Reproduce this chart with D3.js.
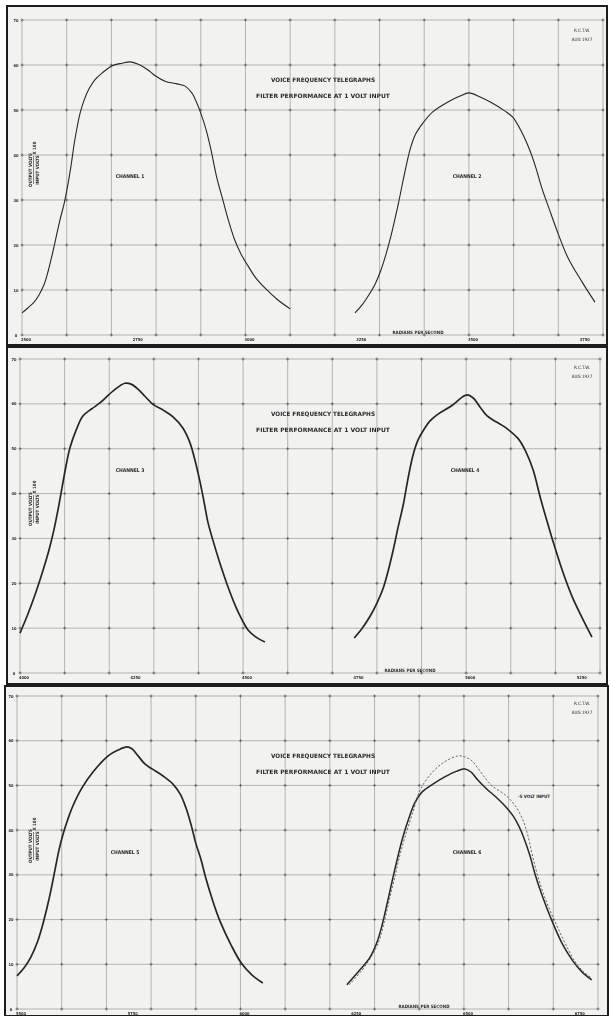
<!DOCTYPE html>
<html lang="en">
<head>
<meta charset="utf-8">
<title>Voice Frequency Telegraphs - Filter Performance</title>
<style>
body{
  margin: 0;
  background: #ffffff;
}
svg text{
  font-family: "Liberation Sans Narrow", "DejaVu Sans Condensed", sans-serif;
  fill: #2a2a2a;
  font-weight: bold;
}
.grid line{
  stroke: #9a9a9a;
  stroke-width: 0.7;
}
.cross line{
  stroke: #5a5a5a;
  stroke-width: 0.8;
}
</style>
</head>
<body>
<div id="chart"></div>
<script src="https://d3js.org/d3.v7.min.js"></script>
<script>

// y axis (output volts / input volts x 100)
const yTicks = [0, 10, 20, 30, 40, 50, 60, 70];

// x tick labels, radians per second
const p1XTicks = [2500, 2750, 3000, 3250, 3500, 3750];
const p2XTicks = [4000, 4250, 4500, 4750, 5000, 5250];
const p3XTicks = [5500, 5750, 6000, 6250, 6500, 6750];

// channel 1
const ch1X = [2500, 2513, 2527, 2538, 2549, 2558, 2567, 2576, 2585, 2594, 2603, 2610, 2616, 2623, 2630, 2639, 2650, 2663, 2679, 2701, 2724, 2742, 2764, 2782, 2798, 2820, 2847, 2865, 2880, 2891, 2900, 2912, 2923, 2936, 2950, 2963, 2976, 2990, 3006, 3023, 3044, 3070, 3100];
const ch1Y = [4.9, 6.0, 7.3, 8.9, 11.1, 14.0, 17.6, 21.6, 25.6, 29.1, 33.6, 37.8, 42.0, 46.0, 49.3, 52.2, 54.7, 56.7, 58.2, 59.8, 60.4, 60.7, 60.0, 58.9, 57.6, 56.4, 55.8, 55.3, 53.8, 51.6, 49.3, 45.6, 41.1, 34.9, 29.8, 25.1, 21.1, 18.0, 15.3, 12.7, 10.4, 8.0, 5.8];
// channel 2
const ch2X = [3245, 3261, 3276, 3290, 3303, 3314, 3325, 3334, 3343, 3352, 3361, 3370, 3381, 3397, 3419, 3453, 3480, 3500, 3525, 3551, 3580, 3598, 3618, 3636, 3650, 3663, 3679, 3699, 3721, 3753, 3782];
const ch2Y = [4.9, 6.7, 8.9, 11.3, 14.4, 17.8, 21.8, 25.6, 29.6, 34.0, 38.2, 41.8, 44.7, 47.1, 49.6, 51.8, 53.1, 53.8, 52.9, 51.6, 49.8, 48.4, 45.1, 41.1, 37.1, 32.7, 28.2, 22.7, 17.3, 11.8, 7.3];
// channel 3
const ch3X = [4000, 4018, 4036, 4052, 4065, 4076, 4085, 4094, 4103, 4112, 4126, 4141, 4161, 4179, 4209, 4235, 4249, 4262, 4280, 4298, 4321, 4343, 4365, 4381, 4392, 4404, 4413, 4421, 4433, 4448, 4464, 4484, 4498, 4511, 4529, 4549];
const ch3Y = [8.9, 13.2, 18.1, 23.0, 27.4, 31.9, 36.3, 41.2, 46.1, 50.2, 54.2, 57.3, 58.9, 60.2, 62.9, 64.6, 64.4, 63.5, 61.7, 59.9, 58.6, 57.1, 54.6, 51.3, 47.5, 42.4, 37.9, 33.7, 29.4, 24.5, 19.8, 14.7, 11.8, 9.6, 8.0, 6.9];
// channel 4
const ch4X = [4749, 4767, 4785, 4800, 4814, 4825, 4836, 4847, 4859, 4870, 4881, 4892, 4906, 4919, 4937, 4969, 4991, 5002, 5016, 5031, 5047, 5067, 5087, 5117, 5134, 5150, 5166, 5179, 5193, 5215, 5238, 5260, 5282];
const ch4Y = [7.8, 10.0, 12.7, 15.6, 18.9, 22.7, 27.2, 32.3, 37.5, 43.5, 48.6, 51.9, 54.4, 56.2, 57.7, 59.7, 61.5, 62.0, 61.3, 59.3, 57.3, 56.0, 54.8, 52.2, 49.3, 45.3, 39.2, 34.6, 29.9, 23.0, 16.9, 12.3, 8.0];
// channel 5
const ch5X = [5500, 5516, 5531, 5545, 5556, 5567, 5576, 5585, 5594, 5603, 5614, 5625, 5645, 5670, 5704, 5726, 5746, 5757, 5771, 5786, 5802, 5827, 5849, 5865, 5878, 5889, 5900, 5912, 5921, 5936, 5954, 5979, 6003, 6026, 6050];
const ch5Y = [7.4, 9.2, 11.6, 14.8, 18.3, 22.6, 26.6, 31.1, 35.6, 39.1, 42.5, 45.4, 49.4, 53.0, 56.6, 57.9, 58.6, 58.2, 56.6, 54.8, 53.7, 52.1, 50.3, 48.1, 45.0, 41.4, 37.1, 33.3, 29.8, 24.8, 19.7, 14.3, 10.1, 7.6, 5.8];
// channel 6, 1 volt input
const ch6X = [6238, 6267, 6290, 6305, 6317, 6330, 6341, 6352, 6363, 6377, 6390, 6406, 6428, 6457, 6484, 6502, 6516, 6531, 6551, 6574, 6592, 6610, 6623, 6634, 6648, 6659, 6677, 6697, 6719, 6742, 6764, 6786];
const ch6Y = [5.4, 8.7, 11.6, 14.8, 18.8, 24.4, 29.3, 34.0, 38.3, 42.7, 46.1, 48.5, 50.1, 51.9, 53.2, 53.7, 53.0, 51.2, 49.2, 47.2, 45.4, 43.2, 40.9, 38.3, 34.2, 30.2, 24.8, 19.7, 14.8, 11.0, 8.3, 6.5];
// channel 6, second input level (dashed)
const ch6bX = [6243, 6272, 6294, 6310, 6321, 6334, 6346, 6357, 6370, 6386, 6402, 6428, 6457, 6487, 6502, 6518, 6531, 6547, 6563, 6592, 6614, 6630, 6641, 6652, 6665, 6683, 6703, 6726, 6748, 6768, 6786];
const ch6bY = [5.4, 8.7, 11.9, 15.2, 19.2, 24.8, 29.8, 34.5, 39.1, 44.1, 49.0, 52.8, 55.3, 56.6, 56.4, 55.5, 53.9, 51.7, 49.9, 47.9, 45.6, 42.7, 39.6, 34.9, 29.8, 24.4, 19.7, 14.8, 10.7, 8.3, 6.9];

const width = 610;
const height = 1016;

const svg = d3.select('#chart')
  .append('svg')
  .attr('width', width)
  .attr('height', height);

// a soft scan look
const defs = svg.append('defs');
defs.append('filter').attr('id', 'soft')
  .append('feGaussianBlur').attr('stdDeviation', 0.35);

const zip = (xs, ys) => xs.map((x, i) => [x, ys[i]]);

const panels = [
  { box: [7, 6, 600, 339], plot: { l: 22, r: 603, t: 20, b: 335 }, x0: 2500, ticks: p1XTicks,
    titleY: 82, stampY: 32, chanY: 178, chanX: [130, 467], axisX: 418,
    series: [ { d: zip(ch1X, ch1Y), w: 1.1 }, { d: zip(ch2X, ch2Y), w: 1.1 } ] },
  { box: [7, 347, 600, 337], plot: { l: 20, r: 600, t: 359, b: 673 }, x0: 4000, ticks: p2XTicks,
    titleY: 416, stampY: 369, chanY: 472, chanX: [130, 465], axisX: 410,
    series: [ { d: zip(ch3X, ch3Y), w: 1.7 }, { d: zip(ch4X, ch4Y), w: 1.7 } ] },
  { box: [5, 686, 603, 330], plot: { l: 17, r: 598, t: 696, b: 1009 }, x0: 5500, ticks: p3XTicks,
    titleY: 758, stampY: 705, chanY: 854, chanX: [125, 467], axisX: 424,
    series: [ { d: zip(ch5X, ch5Y), w: 1.7 }, { d: zip(ch6X, ch6Y), w: 1.5 },
              { d: zip(ch6bX, ch6bY), w: 0.9, dash: '2.2,1.8' } ] }
];

panels.forEach((p, pi) => {
  const g = svg.append('g').attr('filter', 'url(#soft)');

  g.append('rect')
    .attr('x', p.box[0]).attr('y', p.box[1])
    .attr('width', p.box[2]).attr('height', p.box[3])
    .attr('fill', '#f2f2f0')
    .attr('stroke', '#1c1c1c')
    .attr('stroke-width', 2);

  const xS = d3.scaleLinear()
    .domain([p.x0, p.x0 + 1300])
    .range([p.plot.l, p.plot.r]);
  const yS = d3.scaleLinear()
    .domain([0, 70])
    .range([p.plot.b, p.plot.t]);

  const xGrid = d3.range(p.x0, p.x0 + 1301, 100);

  // grid
  const grid = g.append('g').attr('class', 'grid');
  grid.selectAll('.v')
    .data(xGrid)
    .join('line')
    .attr('x1', d => xS(d)).attr('x2', d => xS(d))
    .attr('y1', p.plot.t).attr('y2', p.plot.b);
  grid.selectAll('.h')
    .data(yTicks)
    .join('line')
    .attr('class', 'h')
    .attr('x1', p.plot.l).attr('x2', p.plot.r)
    .attr('y1', d => yS(d)).attr('y2', d => yS(d));

  // little crosses where grid lines meet
  const pts = [];
  xGrid.forEach(x => yTicks.forEach(y => pts.push([x, y])));
  const cross = g.append('g').attr('class', 'cross');
  cross.selectAll('.cx')
    .data(pts)
    .join('line')
    .attr('x1', d => xS(d[0]) - 1.5).attr('x2', d => xS(d[0]) + 1.5)
    .attr('y1', d => yS(d[1])).attr('y2', d => yS(d[1]));
  cross.selectAll('.cy')
    .data(pts)
    .join('line')
    .attr('class', 'cy')
    .attr('x1', d => xS(d[0])).attr('x2', d => xS(d[0]))
    .attr('y1', d => yS(d[1]) - 1.5).attr('y2', d => yS(d[1]) + 1.5);

  // y ticks
  g.selectAll('.ytk')
    .data(yTicks)
    .join('text')
    .attr('x', p.plot.l - 6)
    .attr('y', d => yS(d) + 1.5)
    .attr('text-anchor', 'middle')
    .style('font-size', '4px')
    .text(d => d);

  // x ticks
  g.selectAll('.xtk')
    .data(p.ticks)
    .join('text')
    .attr('x', d => xS(d) + 4)
    .attr('y', p.plot.b + 5.5)
    .attr('text-anchor', 'middle')
    .style('font-size', '4px')
    .text(d => d);

  // curves
  const line = d3.line()
    .x(d => xS(d[0]))
    .y(d => yS(d[1]))
    .curve(d3.curveCatmullRom.alpha(0.5));

  p.series.forEach(s => {
    g.append('path')
      .attr('d', line(s.d))
      .attr('fill', 'none')
      .attr('stroke', s.dash ? '#555' : '#262626')
      .attr('stroke-width', s.w)
      .attr('stroke-linejoin', 'round')
      .attr('stroke-dasharray', s.dash || null);
  });

  // titles
  g.append('text')
    .attr('x', 323).attr('y', p.titleY)
    .attr('text-anchor', 'middle')
    .attr('textLength', 104).attr('lengthAdjust', 'spacingAndGlyphs')
    .style('font-size', '6px')
    .text('VOICE FREQUENCY TELEGRAPHS');
  g.append('text')
    .attr('x', 323).attr('y', p.titleY + 16)
    .attr('text-anchor', 'middle')
    .attr('textLength', 134).attr('lengthAdjust', 'spacingAndGlyphs')
    .style('font-size', '6px')
    .text('FILTER PERFORMANCE AT 1 VOLT INPUT');

  g.append('text')
    .attr('x', 582).attr('y', p.stampY)
    .attr('text-anchor', 'middle')
    .style('font-size', '4.5px')
    .style('font-weight', 'normal')
    .text('R.C.T.W.');
  g.append('text')
    .attr('x', 582).attr('y', p.stampY + 9)
    .attr('text-anchor', 'middle')
    .style('font-size', '4.5px')
    .style('font-weight', 'normal')
    .text('AUG 1927');

  p.chanX.forEach((cx, ci) => {
    g.append('text')
      .attr('x', cx).attr('y', p.chanY)
      .attr('text-anchor', 'middle')
      .style('font-size', '5px')
      .text('CHANNEL ' + (pi * 2 + ci + 1));
  });

  g.append('text')
    .attr('x', p.axisX).attr('y', p.plot.b - 1)
    .attr('text-anchor', 'middle')
    .style('font-size', '4.5px')
    .text('RADIANS PER SECOND');

  // y axis title, a rotated fraction
  const cy = p.plot.t + 150;
  const yt = g.append('g').attr('transform', 'translate(35,' + cy + ') rotate(-90)');
  yt.append('text').attr('x', 0).attr('y', -3)
    .attr('text-anchor', 'middle').style('font-size', '4.5px')
    .text('OUTPUT VOLTS');
  yt.append('line').attr('x1', -14).attr('x2', 14).attr('y1', -1.5).attr('y2', -1.5)
    .attr('stroke', '#333').attr('stroke-width', 0.6);
  yt.append('text').attr('x', 0).attr('y', 3.5)
    .attr('text-anchor', 'middle').style('font-size', '4.5px')
    .text('INPUT VOLTS');
  yt.append('text').attr('x', 22).attr('y', 0.5)
    .attr('text-anchor', 'middle').style('font-size', '4.5px')
    .text('X 100');
});

// label for the dashed curve
svg.append('text')
  .attr('x', 534).attr('y', 798)
  .attr('text-anchor', 'middle')
  .style('font-size', '4.5px')
  .text('·5 VOLT INPUT');

</script>
</body>
</html>
